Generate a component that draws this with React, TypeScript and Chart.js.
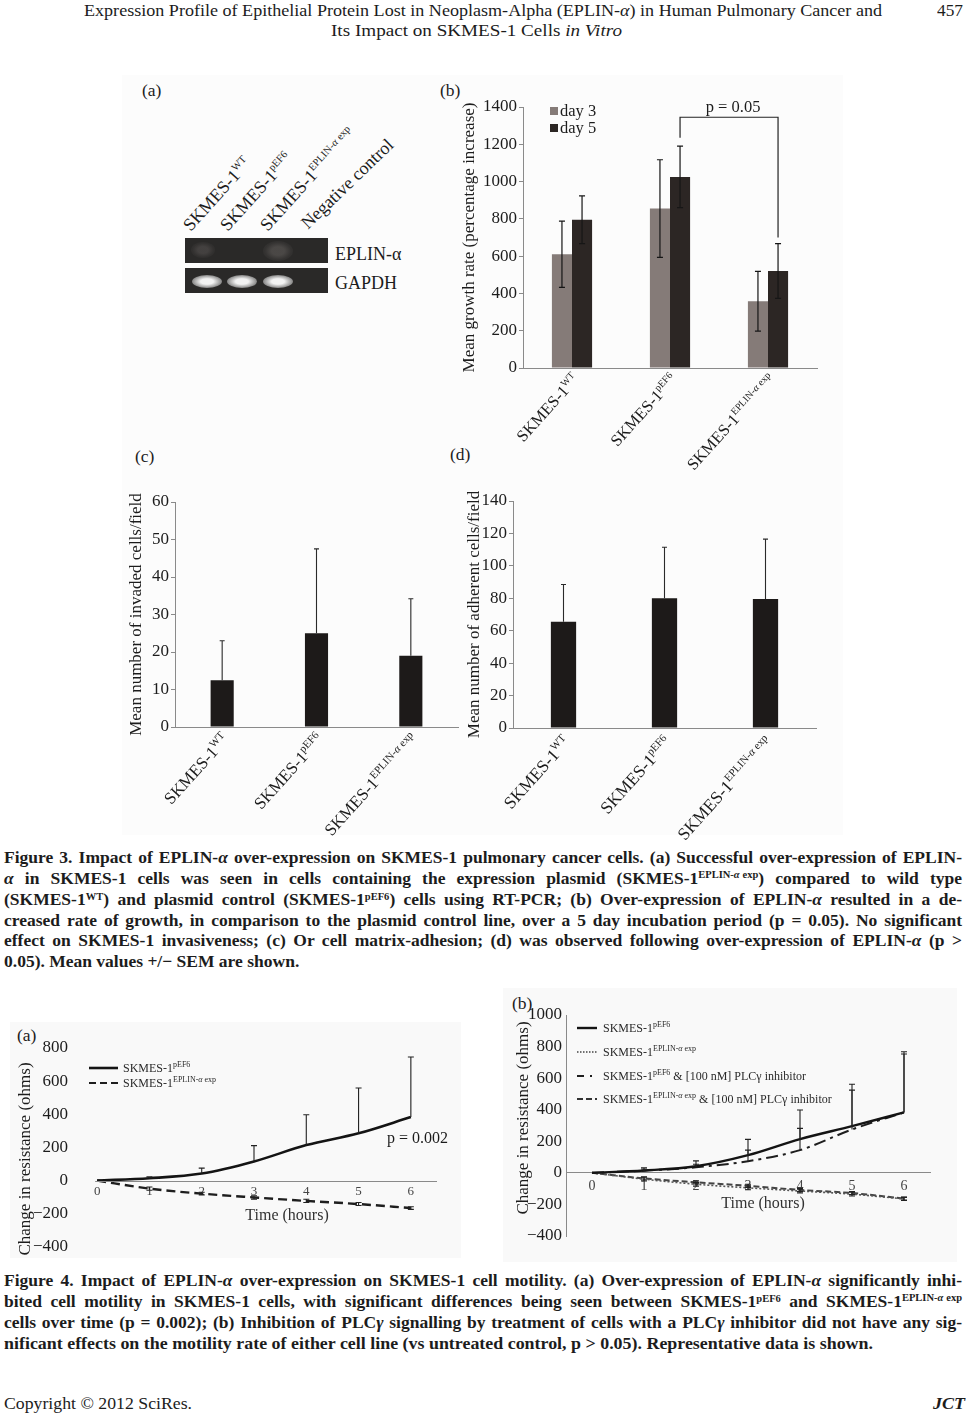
import React, { useEffect, useLayoutEffect, useRef } from 'react';
import { Chart, registerables } from 'chart.js';

Chart.register(...registerables);

const SERIF = '"Liberation Serif", "Times New Roman", Times, serif';
const INK = '#1c1c1c';
const AXIS = '#8a8a8a';

// ---------------- data ----------------
const cellLineSuffixes = ['WT', 'pEF6', 'EPLIN-α exp'];

// Figure 3(b): mean growth rate (percentage increase)
const growthDay3 = [610, 855, 358];
const growthDay3Err = [178, 262, 160];
const growthDay5 = [795, 1025, 520];
const growthDay5Err = [128, 165, 147];
const growthSeriesNames = ['day 3', 'day 5'];
const growthBracket = [1345, 1235, 700]; // top, left end, right end (data units)
const growthPText = 'p = 0.05';

// Figure 3(c): invasion
const invasionMeans = [12.5, 25, 19];
const invasionSem = [10.5, 22.5, 15.2];

// Figure 3(d): adhesion
const adhesionMeans = [65.5, 80, 79.5];
const adhesionSem = [23, 31.5, 37];

// Figure 4: time in hours
const hours = [0, 1, 2, 3, 4, 5, 6];
// 4(a)
const motPEF6 = [0, 14, 42, 115, 214, 285, 383];
const motPEF6Err = [0, 8, 33, 96, 183, 274, 363];
const motEplin = [0, -49, -79, -102, -123, -142, -166];
const motEplinErr = [0, 10, 8, 10, 10, 9, 8];
// 4(b)
const plcPEF6 = [0, 15, 42, 112, 214, 296, 383];
const plcPEF6Err = [0, 17, 34, 100, 184, 265, 384];
const plcEplin = [0, -40, -72, -95, -115, -135, -165];
const plcEplinErr = [0, 12, 12, 12, 12, 12, 10];
const plcPEF6Inh = [0, 14, 35, 74, 144, 275, 383];
const plcPEF6InhErr = [0, 10, 20, 70, 138, 249, 370];
const plcEplinInh = [0, -35, -60, -82, -108, -128, -163];
const plcEplinInhErr = [0, 10, 10, 10, 10, 10, 10];

// ---------------- helpers ----------------
type Seg = { t: string; sup?: boolean; it?: boolean };

function cellLabel(suffix: string, extra?: string): Seg[] {
  const segs: Seg[] = [{ t: 'SKMES-1' }];
  const i = suffix.indexOf('α');
  if (i >= 0) {
    segs.push({ t: suffix.slice(0, i), sup: true });
    segs.push({ t: 'α', sup: true, it: true });
    segs.push({ t: suffix.slice(i + 1), sup: true });
  } else segs.push({ t: suffix, sup: true });
  if (extra) segs.push({ t: extra });
  return segs;
}

function drawRich(ctx: any, segs: Seg[], x: number, y: number, opt: any) {
  const size = opt.size;
  const supSize = opt.supSize ?? Math.round(size * 0.62);
  ctx.save();
  ctx.translate(x, y);
  if (opt.angle) ctx.rotate(opt.angle);
  ctx.fillStyle = opt.color ?? INK;
  ctx.textBaseline = 'alphabetic';
  ctx.textAlign = 'left';
  const font = (s: Seg) => `${s.it ? 'italic ' : ''}${s.sup ? supSize : size}px ${SERIF}`;
  const widths = segs.map((s) => {
    ctx.font = font(s);
    return ctx.measureText(s.t).width;
  });
  const total = widths.reduce((a, b) => a + b, 0);
  let cx = opt.align === 'right' ? -total : opt.align === 'center' ? -total / 2 : 0;
  const dy = opt.baseline === 'middle' ? size * 0.33 : 0;
  segs.forEach((s, i) => {
    ctx.font = font(s);
    ctx.fillText(s.t, cx, dy - (s.sup ? size * 0.4 : 0));
    cx += widths[i];
  });
  ctx.restore();
}

function vErr(ctx: any, x: number, yTop: number, yBot: number, cap: number, capTop: boolean, capBot: boolean) {
  ctx.beginPath();
  ctx.moveTo(x, yTop);
  ctx.lineTo(x, yBot);
  if (capTop) {
    ctx.moveTo(x - cap / 2, yTop);
    ctx.lineTo(x + cap / 2, yTop);
  }
  if (capBot) {
    ctx.moveTo(x - cap / 2, yBot);
    ctx.lineTo(x + cap / 2, yBot);
  }
  ctx.stroke();
}

const BASE = {
  animation: false as const,
  responsive: false,
  maintainAspectRatio: false,
  devicePixelRatio: 1,
  events: [] as any[],
};
const NO_PLUGINS = { legend: { display: false }, tooltip: { enabled: false }, title: { display: false } };

function yAxisBar(max: number, step: number, width: number) {
  return {
    min: 0,
    max,
    ticks: { stepSize: step, font: { family: SERIF, size: 17 }, color: INK, padding: 2, callback: (v: any) => String(v) },
    grid: { drawOnChartArea: false, drawTicks: true, tickLength: 4, color: AXIS },
    border: { color: AXIS, width: 1 },
    afterFit: (s: any) => {
      s.width = width;
    },
  };
}
function xAxisBar(h: number) {
  return {
    grid: { display: false, drawTicks: false },
    ticks: { display: false },
    border: { color: AXIS, width: 1 },
    afterFit: (s: any) => {
      s.height = h;
    },
  };
}

function drawYTitle(chart: any, text: string, x: number) {
  const ca = chart.chartArea;
  drawRich(chart.ctx, [{ t: text }], x, (ca.top + ca.bottom) / 2, {
    size: 17,
    align: 'center',
    baseline: 'middle',
    angle: -Math.PI / 2,
  });
}
function drawCatLabels(chart: any, dx: number, dy: number, size: number) {
  const { ctx, chartArea: ca, scales } = chart;
  cellLineSuffixes.forEach((suf, j) => {
    const px = scales.x.getPixelForValue(j);
    drawRich(ctx, cellLabel(suf), px + dx, ca.bottom + dy, {
      size,
      supSize: Math.round(size * 0.62),
      align: 'right',
      angle: (-48 * Math.PI) / 180,
    });
  });
}

function singleBarPlugin(errs: number[], title: string, titleX: number, labelDy: number, labelSize: number) {
  return {
    id: 'singleBarExtras',
    afterDatasetsDraw(chart: any) {
      const { ctx, scales } = chart;
      const meta = chart.getDatasetMeta(0);
      ctx.save();
      ctx.strokeStyle = '#2a2a2a';
      ctx.lineWidth = 1.1;
      (chart.data.datasets[0].data as number[]).forEach((v, j) => {
        const px = meta.data[j].x;
        vErr(ctx, px, scales.y.getPixelForValue(v + errs[j]), scales.y.getPixelForValue(v), 5, true, false);
      });
      ctx.restore();
    },
    afterDraw(chart: any) {
      drawYTitle(chart, title, titleX);
      drawCatLabels(chart, 8, labelDy, labelSize);
    },
  };
}

const DAY3 = '#857b78';
const DAY5 = '#2c2624';

function growthConfig() {
  return {
    type: 'bar',
    data: {
      labels: cellLineSuffixes,
      datasets: [
        { label: growthSeriesNames[0], data: growthDay3, backgroundColor: DAY3, categoryPercentage: 0.41, barPercentage: 1 },
        { label: growthSeriesNames[1], data: growthDay5, backgroundColor: DAY5, categoryPercentage: 0.41, barPercentage: 1 },
      ],
    },
    options: {
      ...BASE,
      plugins: NO_PLUGINS,
      layout: { padding: { top: 27, right: 23, left: 0, bottom: 0 } },
      scales: { x: xAxisBar(112), y: yAxisBar(1400, 200, 83) },
    },
    plugins: [
      {
        id: 'growthExtras',
        afterDatasetsDraw(chart: any) {
          const { ctx, scales } = chart;
          const errs = [growthDay3Err, growthDay5Err];
          ctx.save();
          ctx.strokeStyle = '#161616';
          ctx.lineWidth = 1.2;
          chart.data.datasets.forEach((ds: any, i: number) => {
            const meta = chart.getDatasetMeta(i);
            (ds.data as number[]).forEach((v, j) => {
              vErr(ctx, meta.data[j].x, scales.y.getPixelForValue(v + errs[i][j]), scales.y.getPixelForValue(v - errs[i][j]), 6, true, true);
            });
          });
          ctx.restore();
        },
        afterDraw(chart: any) {
          const { ctx, chartArea: ca, scales } = chart;
          const colors = [DAY3, DAY5];
          growthSeriesNames.forEach((name, k) => {
            const cy = ca.top + 4 + k * 17;
            ctx.fillStyle = colors[k];
            ctx.fillRect(ca.left + 27, cy - 4, 8, 8);
            drawRich(ctx, [{ t: name }], ca.left + 37, cy, { size: 16.5, baseline: 'middle' });
          });
          const m5 = chart.getDatasetMeta(1);
          const xl = m5.data[1].x;
          const xr = m5.data[2].x;
          const yTop = scales.y.getPixelForValue(growthBracket[0]);
          ctx.save();
          ctx.strokeStyle = '#222';
          ctx.lineWidth = 1.2;
          ctx.beginPath();
          ctx.moveTo(xl, scales.y.getPixelForValue(growthBracket[1]));
          ctx.lineTo(xl, yTop);
          ctx.lineTo(xr, yTop);
          ctx.lineTo(xr, scales.y.getPixelForValue(growthBracket[2]));
          ctx.stroke();
          ctx.restore();
          drawRich(ctx, [{ t: growthPText }], (xl + xr) / 2 + 4, scales.y.getPixelForValue(1400), {
            size: 16.5,
            align: 'center',
            baseline: 'middle',
          });
          drawYTitle(chart, 'Mean growth rate (percentage increase)', 28);
          drawCatLabels(chart, 8, 12, 16.5);
        },
      },
    ],
  };
}

function invasionConfig() {
  return {
    type: 'bar',
    data: {
      labels: cellLineSuffixes,
      datasets: [{ data: invasionMeans, backgroundColor: '#1d1a19', categoryPercentage: 1, barPercentage: 0.245 }],
    },
    options: {
      ...BASE,
      plugins: NO_PLUGINS,
      layout: { padding: { top: 57, right: 4, left: 0, bottom: 0 } },
      scales: { x: xAxisBar(118), y: yAxisBar(60, 10, 53) },
    },
    plugins: [singleBarPlugin(invasionSem, 'Mean number of invaded cells/field', 13, 13, 17)],
  };
}

function adhesionConfig() {
  return {
    type: 'bar',
    data: {
      labels: cellLineSuffixes,
      datasets: [{ data: adhesionMeans, backgroundColor: '#1d1a19', categoryPercentage: 1, barPercentage: 0.25 }],
    },
    options: {
      ...BASE,
      plugins: NO_PLUGINS,
      layout: { padding: { top: 56, right: 24, left: 0, bottom: 0 } },
      scales: { x: xAxisBar(117), y: yAxisBar(140, 20, 73) },
    },
    plugins: [singleBarPlugin(adhesionSem, 'Mean number of adherent cells/field', 33, 15, 17.5)],
  };
}

// ---------- Figure 4 ----------
const pts = (ys: number[]) => hours.map((h, i) => ({ x: h, y: ys[i] }));
function lineDs(ys: number[], color: string, width: number, dash: number[]) {
  return {
    data: pts(ys),
    borderColor: color,
    borderWidth: width,
    borderDash: dash,
    pointRadius: 0,
    fill: false,
    cubicInterpolationMode: 'monotone',
  };
}
const minusFmt = (v: any) => (v < 0 ? '−' + Math.abs(v) : String(v));

function motilityScales(yMax: number, showBorders: boolean, xFont: number, xPad: number) {
  return {
    x: {
      type: 'linear',
      min: -0.5,
      max: 6.5,
      position: { y: 0 },
      afterBuildTicks: (s: any) => {
        s.ticks = hours.map((h) => ({ value: h }));
      },
      ticks: { font: { family: SERIF, size: xFont }, color: '#444', padding: xPad, autoSkip: false, maxRotation: 0, callback: (v: any) => String(v) },
      grid: { display: false, drawTicks: false },
      border: { display: showBorders, color: AXIS, width: 1 },
      afterFit: (s: any) => {
        s.height = 0;
      },
    },
    y: {
      min: -400,
      max: yMax,
      ticks: { stepSize: 200, font: { family: SERIF, size: 17 }, color: INK, padding: showBorders ? 4 : 3, callback: minusFmt },
      grid: { display: false, drawTicks: false },
      border: { display: showBorders, color: AXIS, width: 1 },
      afterFit: (s: any) => {
        s.width = 61;
      },
    },
  };
}

type LegendItem = { segs: Seg[]; dash: number[]; width: number; color: string };

function motilityPlugin(cfg: any) {
  return {
    id: 'motilityExtras',
    afterDatasetsDraw(chart: any) {
      const { ctx, scales, chartArea: ca } = chart;
      ctx.save();
      if (cfg.zeroLine) {
        ctx.strokeStyle = AXIS;
        ctx.lineWidth = 1;
        const zy = Math.round(scales.y.getPixelForValue(0)) + 0.5;
        ctx.beginPath();
        ctx.moveTo(scales.x.getPixelForValue(0) - 2, zy);
        ctx.lineTo(ca.right, zy);
        ctx.stroke();
      }
      ctx.strokeStyle = '#222';
      ctx.lineWidth = 1.1;
      chart.data.datasets.forEach((ds: any, i: number) => {
        const e = cfg.errs[i];
        ds.data.forEach((p: any, j: number) => {
          if (!e[j]) return;
          const px = scales.x.getPixelForValue(p.x);
          const top = scales.y.getPixelForValue(p.y + e[j]);
          const bot = cfg.both[i] ? scales.y.getPixelForValue(p.y - e[j]) : scales.y.getPixelForValue(p.y);
          vErr(ctx, px, top, bot, 6, true, cfg.both[i]);
        });
      });
      ctx.restore();
    },
    afterDraw(chart: any) {
      const { ctx } = chart;
      (cfg.legend as LegendItem[]).forEach((it, k) => {
        const y = cfg.legendY[k];
        ctx.save();
        ctx.strokeStyle = it.color;
        ctx.lineWidth = it.width;
        ctx.setLineDash(it.dash);
        ctx.beginPath();
        ctx.moveTo(cfg.legendX[0], y);
        ctx.lineTo(cfg.legendX[1], y);
        ctx.stroke();
        ctx.restore();
        drawRich(ctx, it.segs, cfg.legendX[2], y, { size: 12, supSize: 8, baseline: 'middle', color: '#2a2a2a' });
      });
      drawRich(ctx, [{ t: 'Change in resistance (ohms)' }], cfg.titleX, cfg.titleY, {
        size: 17,
        align: 'center',
        baseline: 'middle',
        angle: -Math.PI / 2,
      });
      drawRich(ctx, [{ t: 'Time (hours)' }], cfg.timeX, cfg.timeY, { size: 16, align: 'center', baseline: 'middle', color: '#333' });
      if (cfg.pText) drawRich(ctx, [{ t: cfg.pText }], cfg.pX, cfg.pY, { size: 16, baseline: 'middle' });
    },
  };
}

function motilityAConfig() {
  return {
    type: 'line',
    data: {
      datasets: [lineDs(motPEF6, '#141414', 2.6, []), lineDs(motEplin, '#1e1e1e', 2.4, [9, 5])],
    },
    options: {
      ...BASE,
      plugins: NO_PLUGINS,
      layout: { padding: { top: 28, right: 23, left: 0, bottom: 10 } },
      scales: motilityScales(800, false, 13, 3),
    },
    plugins: [
      motilityPlugin({
        zeroLine: true,
        errs: [motPEF6Err, motEplinErr],
        both: [false, true],
        legend: [
          { segs: cellLabel('pEF6'), dash: [], width: 2.6, color: '#141414' },
          { segs: cellLabel('EPLIN-α exp'), dash: [7, 4], width: 2.2, color: '#1e1e1e' },
        ],
        legendX: [79, 108, 113],
        legendY: [48, 63],
        titleX: 14,
        titleY: 139,
        timeX: 277,
        timeY: 195,
        pText: 'p = 0.002',
        pX: 377,
        pY: 118,
      }),
    ],
  };
}

function motilityBConfig() {
  const inhib = ' & [100 nM] PLCγ inhibitor';
  return {
    type: 'line',
    data: {
      datasets: [
        lineDs(plcPEF6, '#141414', 2.4, []),
        lineDs(plcEplin, '#555', 1.6, [2, 2]),
        lineDs(plcPEF6Inh, '#1e1e1e', 2, [12, 5, 3, 5]),
        lineDs(plcEplinInh, '#444', 2, [6, 3]),
      ],
    },
    options: {
      ...BASE,
      plugins: NO_PLUGINS,
      layout: { padding: { top: 25, right: 25, left: 0, bottom: 24 } },
      scales: motilityScales(1000, true, 14, 5),
    },
    plugins: [
      motilityPlugin({
        zeroLine: false,
        errs: [plcPEF6Err, plcEplinErr, plcPEF6InhErr, plcEplinInhErr],
        both: [false, true, false, true],
        legend: [
          { segs: cellLabel('pEF6'), dash: [], width: 2.4, color: '#141414' },
          { segs: cellLabel('EPLIN-α exp'), dash: [1.5, 1.5], width: 1.4, color: '#444' },
          { segs: cellLabel('pEF6', inhib), dash: [7, 6, 2, 6], width: 2, color: '#1e1e1e' },
          { segs: cellLabel('EPLIN-α exp', inhib), dash: [6, 3], width: 2, color: '#333' },
        ],
        legendX: [72, 92, 98],
        legendY: [38, 62, 86, 109],
        titleX: 17,
        titleY: 128,
        timeX: 258,
        timeY: 213,
      }),
    ],
  };
}

// ---------------- React components ----------------
function ChartBox({ left, top, width, height, make }: any) {
  const ref = useRef<HTMLCanvasElement>(null);
  useEffect(() => {
    const chart = new Chart(ref.current as any, make() as any);
    return () => chart.destroy();
  }, []);
  return (
    <canvas
      ref={ref}
      width={width}
      height={height}
      style={{ position: 'absolute', left, top, width, height, display: 'block' }}
    />
  );
}

function FitLine({ x, y, width, mode = 'justify', size = 16, bold = false, italic = false, children }: any) {
  const ref = useRef<HTMLDivElement>(null);
  useLayoutEffect(() => {
    const el = ref.current;
    if (!el || !width) return;
    el.style.wordSpacing = '0px';
    el.style.transform = 'none';
    const w = el.getBoundingClientRect().width;
    const spaces = ((el.textContent || '').match(/ /g) || []).length;
    if (mode === 'justify' && w < width && spaces > 0) {
      el.style.wordSpacing = `${(width - w) / spaces}px`;
    } else {
      el.style.transform = `scaleX(${width / w})`;
    }
  }, []);
  return (
    <div
      ref={ref}
      style={{
        position: 'absolute',
        left: x,
        top: y - size * 0.6,
        fontFamily: SERIF,
        fontSize: size,
        fontWeight: bold ? 700 : 400,
        fontStyle: italic ? 'italic' : 'normal',
        lineHeight: `${size * 1.2}px`,
        whiteSpace: 'nowrap',
        transformOrigin: '0 0',
        color: INK,
      }}
    >
      {children}
    </div>
  );
}

const Sup = ({ children }: any) => (
  <sup style={{ fontSize: '0.6em', lineHeight: 0, verticalAlign: '0.5em' }}>{children}</sup>
);
const EplinSup = () => (
  <Sup>
    EPLIN-<i>α</i>
    <span style={{ marginLeft: '0.28em' }} />
    exp
  </Sup>
);

function PanelLabel({ x, y, children }: any) {
  return (
    <div style={{ position: 'absolute', left: x, top: y - 10, fontSize: 17.5, lineHeight: '20px', fontFamily: SERIF, color: INK }}>
      {children}
    </div>
  );
}

function Gel() {
  const labels = [
    { x: 193, suf: 'WT' },
    { x: 230, suf: 'pEF6' },
    { x: 270, suf: 'EPLIN-α exp' },
  ];
  const bandX = [207, 242, 278];
  const band = (cx: number, cy: number, inner: string, outer: string, w: number, h: number) => (
    <div
      style={{
        position: 'absolute',
        left: cx - w / 2,
        top: cy - h / 2,
        width: w,
        height: h,
        borderRadius: '50%',
        background: `radial-gradient(ellipse at center, ${inner} 0%, ${inner} 30%, ${outer} 62%, rgba(40,40,40,0) 100%)`,
      }}
    />
  );
  const labelStyle: any = {
    position: 'absolute',
    fontFamily: SERIF,
    fontSize: 18,
    lineHeight: '18px',
    whiteSpace: 'nowrap',
    transformOrigin: '0 100%',
    color: INK,
  };
  return (
    <>
      {labels.map((l, i) => (
        <div key={i} style={{ ...labelStyle, left: l.x, top: 234 - 18, transform: 'rotate(-48deg)' }}>
          SKMES-1
          <sup style={{ fontSize: 10.5, lineHeight: 0, verticalAlign: '7px' }}>
            {l.suf.includes('α') ? (
              <>
                EPLIN-<i>α</i>
                <span style={{ marginLeft: 3 }} />
                exp
              </>
            ) : (
              l.suf
            )}
          </sup>
        </div>
      ))}
      <div style={{ ...labelStyle, left: 310, top: 232 - 18, transform: 'rotate(-44deg)' }}>Negative control</div>
      <div style={{ position: 'absolute', left: 185, top: 238, width: 143, height: 25, background: '#2a2928' }} />
      <div style={{ position: 'absolute', left: 185, top: 268, width: 143, height: 25, background: '#2a2928' }} />
      {band(203, 250, 'rgba(70,67,66,0.9)', 'rgba(55,53,52,0.6)', 24, 16)}
      {band(278, 251, 'rgba(78,75,73,0.9)', 'rgba(58,56,55,0.6)', 30, 20)}
      {bandX.map((bx, i) => (
        <React.Fragment key={i}>{band(bx, 281, '#f2f2f2', 'rgba(185,185,185,0.8)', 30, 13)}</React.Fragment>
      ))}
      <div style={{ position: 'absolute', left: 335, top: 244, fontFamily: SERIF, fontSize: 18, lineHeight: '20px', color: INK }}>
        EPLIN-α
      </div>
      <div style={{ position: 'absolute', left: 335, top: 273, fontFamily: SERIF, fontSize: 18, lineHeight: '20px', color: INK }}>
        GAPDH
      </div>
    </>
  );
}

export default function App() {
  const CAP = { size: 17.5, bold: true };
  const L = 4;
  const W = 958;
  return (
    <div
      style={{
        position: 'absolute',
        left: 0,
        top: 0,
        width: 966,
        height: 1414,
        background: '#ffffff',
        overflow: 'hidden',
        fontFamily: SERIF,
        color: INK,
      }}
    >
      {/* running header */}
      <FitLine x={84} y={10} width={798} mode="scale" size={17.5}>
        Expression Profile of Epithelial Protein Lost in Neoplasm-Alpha (EPLIN-<i>α</i>) in Human Pulmonary Cancer and
      </FitLine>
      <FitLine x={937} y={10} width={26} mode="scale" size={17.5}>
        457
      </FitLine>
      <FitLine x={331} y={30} width={291} mode="scale" size={17.5}>
        Its Impact on SKMES-1 Cells <i>in Vitro</i>
      </FitLine>

      {/* Figure 3 */}
      <div style={{ position: 'absolute', left: 122, top: 75, width: 721, height: 760, background: '#fcfcfc' }} />
      <Gel />
      <PanelLabel x={142} y={90}>(a)</PanelLabel>
      <PanelLabel x={440} y={90}>(b)</PanelLabel>
      <PanelLabel x={135} y={456}>(c)</PanelLabel>
      <PanelLabel x={450} y={454}>(d)</PanelLabel>
      <ChartBox left={440} top={80} width={400} height={400} make={growthConfig} />
      <ChartBox left={122} top={445} width={340} height={400} make={invasionConfig} />
      <ChartBox left={440} top={445} width={400} height={400} make={adhesionConfig} />

      <FitLine x={L} y={857} width={W} {...CAP}>
        Figure 3. Impact of EPLIN-<i>α</i> over-expression on SKMES-1 pulmonary cancer cells. (a) Successful over-expression of EPLIN-
      </FitLine>
      <FitLine x={L} y={878} width={W} {...CAP}>
        <i>α</i> in SKMES-1 cells was seen in cells containing the expression plasmid (SKMES-1
        <EplinSup />) compared to wild type
      </FitLine>
      <FitLine x={L} y={899} width={W} {...CAP}>
        (SKMES-1<Sup>WT</Sup>) and plasmid control (SKMES-1<Sup>pEF6</Sup>) cells using RT-PCR; (b) Over-expression of EPLIN-<i>α</i>{' '}
        resulted in a de-
      </FitLine>
      <FitLine x={L} y={920} width={W} {...CAP}>
        creased rate of growth, in comparison to the plasmid control line, over a 5 day incubation period (p = 0.05). No significant
      </FitLine>
      <FitLine x={L} y={940} width={W} {...CAP}>
        effect on SKMES-1 invasiveness; (c) Or cell matrix-adhesion; (d) was observed following over-expression of EPLIN-<i>α</i> (p &gt;
      </FitLine>
      <FitLine x={L} y={961} {...CAP}>
        0.05). Mean values +/− SEM are shown.
      </FitLine>

      {/* Figure 4 */}
      <div style={{ position: 'absolute', left: 10, top: 1022, width: 451, height: 236, background: '#f9f9f9' }} />
      <div style={{ position: 'absolute', left: 503, top: 988, width: 454, height: 274, background: '#f9f9f9' }} />
      <PanelLabel x={17} y={1035}>(a)</PanelLabel>
      <PanelLabel x={512} y={1003}>(b)</PanelLabel>
      <ChartBox left={10} top={1020} width={450} height={240} make={motilityAConfig} />
      <ChartBox left={505} top={990} width={450} height={270} make={motilityBConfig} />

      <FitLine x={L} y={1280} width={W} {...CAP}>
        Figure 4. Impact of EPLIN-<i>α</i> over-expression on SKMES-1 cell motility. (a) Over-expression of EPLIN-<i>α</i> significantly inhi-
      </FitLine>
      <FitLine x={L} y={1301} width={W} {...CAP}>
        bited cell motility in SKMES-1 cells, with significant differences being seen between SKMES-1<Sup>pEF6</Sup> and SKMES-1
        <EplinSup />
      </FitLine>
      <FitLine x={L} y={1322} width={W} {...CAP}>
        cells over time (p = 0.002); (b) Inhibition of PLC<i>γ</i> signalling by treatment of cells with a PLC<i>γ</i> inhibitor did not have any sig-
      </FitLine>
      <FitLine x={L} y={1343} width={869} mode="scale" {...CAP}>
        nificant effects on the motility rate of either cell line (vs untreated control, p &gt; 0.05). Representative data is shown.
      </FitLine>

      {/* footer */}
      <FitLine x={L} y={1403} width={188} mode="scale" size={17.5}>
        Copyright © 2012 SciRes.
      </FitLine>
      <FitLine x={933} y={1403} width={32} mode="scale" size={17.5} bold italic>
        JCT
      </FitLine>
    </div>
  );
}
